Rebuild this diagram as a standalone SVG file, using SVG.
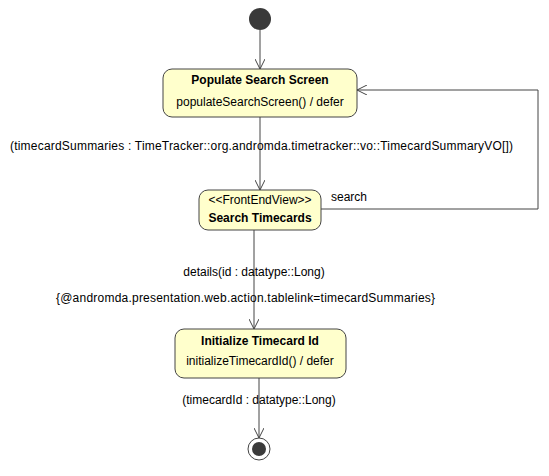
<svg xmlns="http://www.w3.org/2000/svg" width="549" height="476" viewBox="0 0 549 476">
<style>
.node{fill:#ffffcc;stroke:#444;stroke-width:1}
.t{font-family:"Liberation Sans",Arial,sans-serif;font-size:12px;fill:#000}
.b{font-weight:bold}
.edge{fill:none;stroke:#444;stroke-width:1}
</style>
<defs>
<marker id="arr" viewBox="0 0 10 10" refX="10" refY="5" markerWidth="10" markerHeight="10" markerUnits="userSpaceOnUse" orient="auto">
<path d="M0,0 L10,5 L0,10" fill="none" stroke="#444" stroke-width="1"/>
</marker>
</defs>
<rect width="549" height="476" fill="#fff"/>
<g id="connectors">
<path class="edge" d="M260,30 L260,69" marker-end="url(#arr)"/>
<path class="edge" d="M260,117 L260,190" marker-end="url(#arr)"/>
<path class="edge" d="M321,209 L538,209 L538,90 L357,90" marker-end="url(#arr)"/>
<path class="edge" d="M254,230 L254,329" marker-end="url(#arr)"/>
<path class="edge" d="M259,378 L259,438" marker-end="url(#arr)"/>
<text class="t" x="10" y="150" textLength="503" lengthAdjust="spacing">(timecardSummaries : TimeTracker::org.andromda.timetracker::vo::TimecardSummaryVO[])</text>
<text class="t" x="331" y="201">search</text>
<text class="t" x="254" y="276" text-anchor="middle">details(id : datatype::Long)</text>
<text class="t" x="56" y="302" textLength="379" lengthAdjust="spacing">{@andromda.presentation.web.action.tablelink=timecardSummaries}</text>
<text class="t" x="259" y="404" text-anchor="middle">(timecardId : datatype::Long)</text>
</g>
<g id="initial">
<circle cx="260" cy="19" r="11" fill="#3a3a3a"/>
</g>
<g id="populate">
<rect class="node" x="163" y="69" width="194" height="48" rx="9"/>
<text class="t b" x="260" y="84" text-anchor="middle">Populate Search Screen</text>
<text class="t" x="260" y="106" text-anchor="middle">populateSearchScreen() / defer</text>
</g>
<g id="search">
<rect class="node" x="199" y="190" width="122" height="40" rx="9"/>
<text class="t" x="260" y="204" text-anchor="middle">&lt;&lt;FrontEndView&gt;&gt;</text>
<text class="t b" x="260" y="222" text-anchor="middle">Search Timecards</text>
</g>
<g id="initialize">
<rect class="node" x="175" y="329" width="171" height="49" rx="9"/>
<text class="t b" x="260" y="345" text-anchor="middle">Initialize Timecard Id</text>
<text class="t" x="260" y="365" text-anchor="middle">initializeTimecardId() / defer</text>
</g>
<g id="final">
<circle cx="259" cy="449" r="11" fill="#fff" stroke="#444" stroke-width="1"/>
<circle cx="259" cy="449" r="7" fill="#3a3a3a"/>
</g>
</svg>
